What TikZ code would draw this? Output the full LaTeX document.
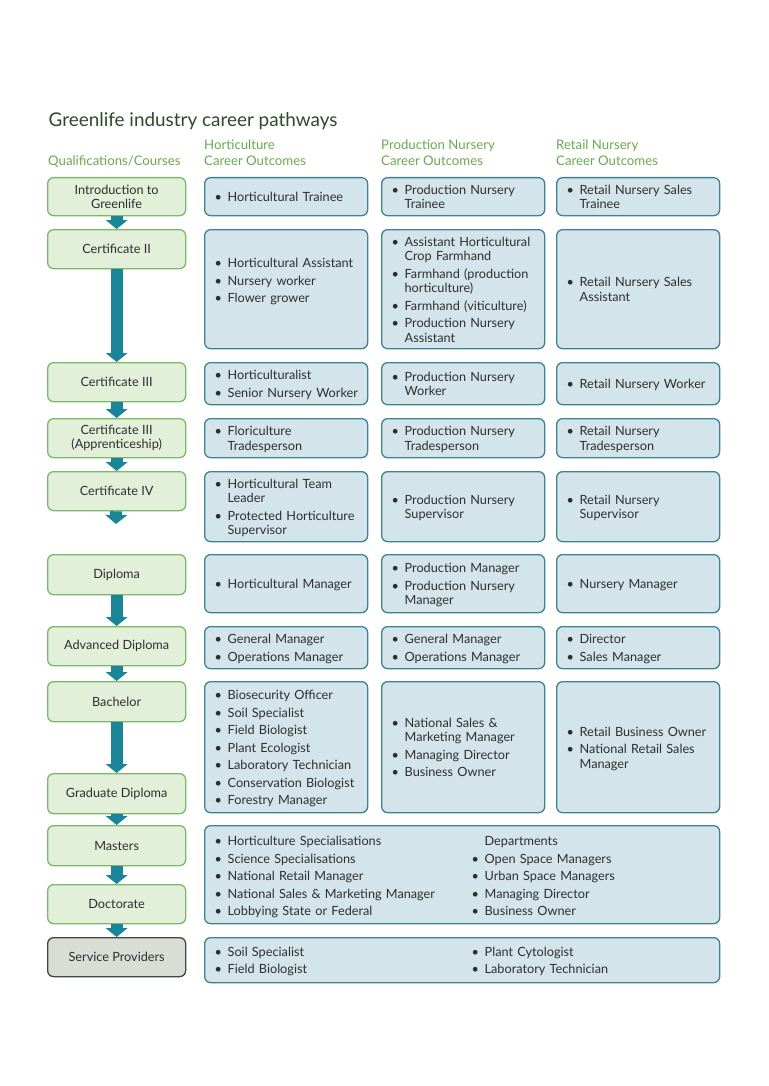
\documentclass[tikz,border=0pt]{standalone}
\usepackage{fontspec}
\setmainfont{Lato}
\usetikzlibrary{arrows.meta}
\definecolor{qfill}{HTML}{E2F0DA}
\definecolor{qdraw}{HTML}{7CB86A}
\definecolor{cfill}{HTML}{D3E5EA}
\definecolor{cdraw}{HTML}{3F8290}
\definecolor{sfill}{HTML}{D8DDD6}
\definecolor{sdraw}{HTML}{3D4A3D}
\definecolor{arr}{HTML}{1A8499}
\definecolor{ttl}{HTML}{2D4A2B}
\definecolor{hdr}{HTML}{6AAA4F}
\definecolor{txt}{HTML}{2E2E2E}
\newif\iffirstitem
\newcommand\blstart{\setlength{\parskip}{0pt}\global\firstitemtrue}
\newcommand\bi[1]{\par\iffirstitem\global\firstitemfalse\else\vspace{3pt}\fi
  \noindent\makebox[13pt][l]{\textbullet}\begin{tabular}[t]{@{}l@{}}#1\end{tabular}\par\prevdepth=\dp\strutbox}
\begin{document}
\begin{tikzpicture}[x=1pt,y=-1pt,
  bodyfont/.style={font=\fontsize{12.7}{14.5}\selectfont},
  qbox/.style={draw=qdraw,fill=qfill,line width=1.3pt,rounded corners=6pt,anchor=north west,
    minimum width=138pt,align=center,text=txt,bodyfont,inner sep=2pt},
  sbox/.style={qbox,draw=sdraw,fill=sfill},
  cbox/.style={draw=cdraw,fill=cfill,line width=1.3pt,rounded corners=6pt,anchor=north west,
    text width=143pt,inner xsep=10pt,inner ysep=2pt,align=left,text=txt,bodyfont,
    execute at begin node={\blstart}},
  wbox/.style={cbox,text width=495pt},
  hdrtext/.style={anchor=base west,inner sep=0pt,text=hdr,align=left,font=\fontsize{13.2}{16}\selectfont},
  flow/.style={arr,line width=12pt,-{Triangle[width=22pt,length=9pt,line width=0pt]}},
]
\useasboundingbox (0,0) rectangle (768,1086);
\fill[white] (0,0) rectangle (768,1086);

% title and headers
\node[anchor=base west,inner sep=0pt,text=ttl,font=\fontsize{18.9}{22}\selectfont] (title) at (48.5,126.5) {Greenlife industry career pathways};
\node[hdrtext] (hq) at (48,166) {Qualifications/Courses};
\node[hdrtext] (hh) at (204,166) {Horticulture\\Career Outcomes};
\node[hdrtext] (hp) at (381,166) {Production Nursery\\Career Outcomes};
\node[hdrtext] (hr) at (556,166) {Retail Nursery\\Career Outcomes};

% qualification boxes
\node[qbox,minimum height=38pt] (q1) at (47,177) {Introduction to\\Greenlife};
\node[qbox,minimum height=39pt] (q2) at (47,229) {Certificate II};
\node[qbox,minimum height=39pt] (q3) at (47,362) {Certificate III};
\node[qbox,minimum height=39pt] (q4) at (47,418) {Certificate III\\(Apprenticeship)};
\node[qbox,minimum height=39pt] (q5) at (47,471) {Certificate IV};
\node[qbox,minimum height=40pt] (q6) at (47,554) {Diploma};
\node[qbox,minimum height=39pt] (q7) at (47,626) {Advanced Diploma};
\node[qbox,minimum height=40pt] (q8) at (47,681) {Bachelor};
\node[qbox,minimum height=40pt] (q9) at (47,773) {Graduate Diploma};
\node[qbox,minimum height=40pt] (q10) at (47,825) {Masters};
\node[qbox,minimum height=39pt] (q11) at (47,884) {Doctorate};
\node[sbox,minimum height=39pt] (q12) at (47,937) {Service Providers};

% arrows
\coordinate (c5end) at (116,524);
\draw[flow] (q1) -- (q2);
\draw[flow] (q2) -- (q3);
\draw[flow] (q3) -- (q4);
\draw[flow] (q4) -- (q5);
\draw[flow] (q5) -- (c5end);
\draw[flow] (q6) -- (q7);
\draw[flow] (q7) -- (q8);
\draw[flow] (q8) -- (q9);
\draw[flow] (q9) -- (q10);
\draw[flow] (q10) -- (q11);
\draw[flow] (q11) -- (q12);

% row 1
\node[cbox,minimum height=38pt] (h1) at (204,177) {\bi{Horticultural Trainee}};
\node[cbox,minimum height=38pt] (p1) at (381,177) {\bi{Production Nursery\\Trainee}};
\node[cbox,minimum height=38pt] (r1) at (556,177) {\bi{Retail Nursery Sales\\Trainee}};
% row 2
\node[cbox,minimum height=119pt] (h2) at (204,229) {\bi{Horticultural Assistant}\bi{Nursery worker}\bi{Flower grower}\vspace*{18pt}};
\node[cbox,minimum height=119pt] (p2) at (381,229) {\bi{Assistant Horticultural\\Crop Farmhand}\bi{Farmhand (production\\horticulture)}\bi{Farmhand (viticulture)}\bi{Production Nursery\\Assistant}};
\node[cbox,minimum height=119pt] (r2) at (556,229) {\bi{Retail Nursery Sales\\Assistant}};
% row 3
\node[cbox,minimum height=42pt] (h3) at (204,362) {\bi{Horticulturalist}\bi{Senior Nursery Worker}};
\node[cbox,minimum height=42pt] (p3) at (381,362) {\bi{Production Nursery\\Worker}};
\node[cbox,minimum height=42pt] (r3) at (556,362) {\bi{Retail Nursery Worker}};
% row 4
\node[cbox,minimum height=39pt] (h4) at (204,418) {\bi{Floriculture\\Tradesperson}};
\node[cbox,minimum height=39pt] (p4) at (381,418) {\bi{Production Nursery\\Tradesperson}};
\node[cbox,minimum height=39pt] (r4) at (556,418) {\bi{Retail Nursery\\Tradesperson}};
% row 5
\node[cbox,minimum height=70pt] (h5) at (204,471) {\bi{Horticultural Team\\Leader}\bi{Protected Horticulture\\Supervisor}};
\node[cbox,minimum height=70pt] (p5) at (381,471) {\bi{Production Nursery\\Supervisor}};
\node[cbox,minimum height=70pt] (r5) at (556,471) {\bi{Retail Nursery\\Supervisor}};
% row 6
\node[cbox,minimum height=58pt] (h6) at (204,554) {\bi{Horticultural Manager}};
\node[cbox,minimum height=58pt] (p6) at (381,554) {\bi{Production Manager}\bi{Production Nursery\\Manager}};
\node[cbox,minimum height=58pt] (r6) at (556,554) {\bi{Nursery Manager}};
% row 7
\node[cbox,minimum height=42pt] (h7) at (204,626) {\bi{General Manager}\bi{Operations Manager}};
\node[cbox,minimum height=42pt] (p7) at (381,626) {\bi{General Manager}\bi{Operations Manager}};
\node[cbox,minimum height=42pt] (r7) at (556,626) {\bi{Director}\bi{Sales Manager}};
% row 8
\node[cbox,minimum height=131pt] (h8) at (204,681) {\bi{Biosecurity Officer}\bi{Soil Specialist}\bi{Field Biologist}\bi{Plant Ecologist}\bi{Laboratory Technician}\bi{Conservation Biologist}\bi{Forestry Manager}};
\node[cbox,minimum height=131pt] (p8) at (381,681) {\bi{National Sales \&\\Marketing Manager}\bi{Managing Director}\bi{Business Owner}};
\node[cbox,minimum height=131pt] (r8) at (556,681) {\bi{Retail Business Owner}\bi{National Retail Sales\\Manager}};
% wide boxes
\node[wbox,minimum height=98pt] (m9) at (204,825) {\noindent\begin{minipage}[t]{257pt}\blstart\bi{Horticulture Specialisations}\bi{Science Specialisations}\bi{National Retail Manager}\bi{National Sales \& Marketing Manager}\bi{Lobbying State or Federal}\end{minipage}\begin{minipage}[t]{238pt}\blstart\noindent\hspace*{13pt}Departments\par\vspace{3pt}\bi{Open Space Managers}\bi{Urban Space Managers}\bi{Managing Director}\bi{Business Owner}\end{minipage}\par\vspace*{-6pt}};
\node[wbox,minimum height=45pt] (s10) at (204,937) {\noindent\begin{minipage}[t]{257pt}\blstart\bi{Soil Specialist}\bi{Field Biologist}\end{minipage}\begin{minipage}[t]{238pt}\blstart\bi{Plant Cytologist}\bi{Laboratory Technician}\end{minipage}\par\vspace*{-4pt}};
\end{tikzpicture}
\end{document}
